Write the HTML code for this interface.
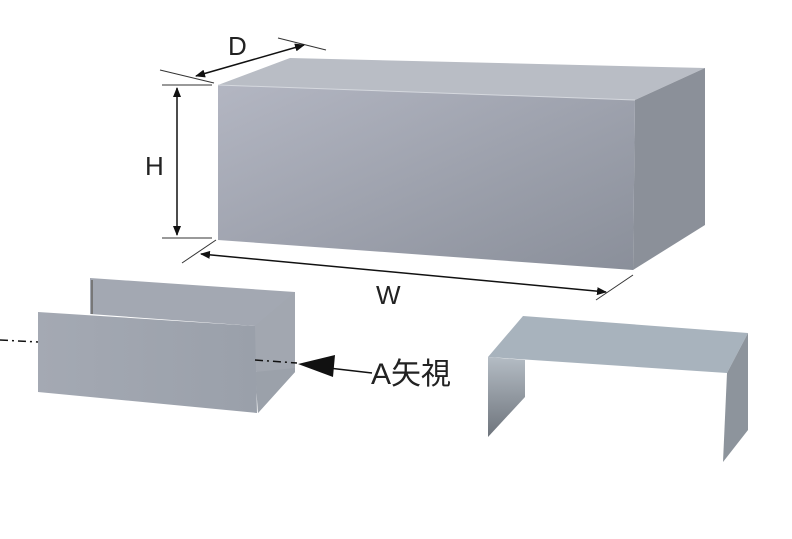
<!DOCTYPE html>
<html><head><meta charset="utf-8"><style>
html,body{margin:0;padding:0;background:#fff;width:792px;height:539px;overflow:hidden}
text{font-family:"Liberation Sans","Noto Sans CJK JP",sans-serif;fill:#222}
</style></head><body>
<svg width="792" height="539" viewBox="0 0 792 539" xmlns="http://www.w3.org/2000/svg">
<defs>
<linearGradient id="front" x1="0" y1="0" x2="1" y2="1">
<stop offset="0" stop-color="#b3b6c2"/><stop offset="1" stop-color="#8a8f9a"/></linearGradient>
<linearGradient id="fp" x1="0" y1="0" x2="1" y2="0">
<stop offset="0" stop-color="#a4a9b3"/><stop offset="1" stop-color="#9aa0aa"/></linearGradient>
<linearGradient id="lp" x1="0" y1="0" x2="0" y2="1">
<stop offset="0" stop-color="#b4bcc4"/><stop offset="1" stop-color="#6e747c"/></linearGradient>
<marker id="ah" markerWidth="10" markerHeight="8" refX="9" refY="4" orient="auto" markerUnits="userSpaceOnUse"><path d="M0,0L10,4L0,8z" fill="#111"/></marker>
<marker id="as" markerWidth="10" markerHeight="8" refX="1" refY="4" orient="auto" markerUnits="userSpaceOnUse"><path d="M10,0L0,4L10,8z" fill="#111"/></marker>
</defs>
<polygon points="218,85 290,58 705,68 635,100" fill="#b9bdc5"/>
<polygon points="635,100 705,68 705,225 633,270" fill="#8b9099"/>
<polygon points="218,85 635,100 633,270 218,240" fill="url(#front)"/>
<line x1="218" y1="85" x2="635" y2="100" stroke="#d5d8de" stroke-width="1"/>
<line x1="160" y1="70" x2="214" y2="83" stroke="#333"/>
<line x1="278" y1="38" x2="326" y2="50" stroke="#333"/>
<line x1="196" y1="76" x2="304" y2="45" stroke="#111" stroke-width="1.5" marker-end="url(#ah)" marker-start="url(#as)"/>
<text x="228" y="55" font-size="26">D</text>
<line x1="162" y1="85" x2="212" y2="85" stroke="#333"/>
<line x1="162" y1="238" x2="212" y2="238" stroke="#333"/>
<line x1="177" y1="88" x2="177" y2="235" stroke="#111" stroke-width="1.5" marker-end="url(#ah)" marker-start="url(#as)"/>
<text x="145" y="175" font-size="26">H</text>
<line x1="182" y1="263" x2="216" y2="240" stroke="#333"/>
<line x1="596" y1="300" x2="633" y2="275" stroke="#333"/>
<line x1="201" y1="254" x2="606" y2="292" stroke="#111" stroke-width="1.5" marker-end="url(#ah)" marker-start="url(#as)"/>
<text x="376" y="304" font-size="26">W</text>
<!-- left U channel -->
<polygon points="90,278 295,292 295,372 258,413 255,326 90,314" fill="#a3a8b2"/>
<polygon points="255,326 295,292 295,368 255,372" fill="#a2a7b0"/>
<polygon points="255,372 295,368 295,372 258,413" fill="#9ba1aa"/>
<line x1="92" y1="280" x2="92" y2="314" stroke="#777" stroke-width="2"/>
<polygon points="38,312 255,326 257,413 38,392" fill="url(#fp)"/>
<line x1="0" y1="340" x2="38" y2="342" stroke="#111" stroke-width="1.5" stroke-dasharray="8,4,2,4"/>
<line x1="255" y1="360" x2="297" y2="363" stroke="#111" stroke-width="1.5" stroke-dasharray="8,4,2,4"/>
<line x1="372" y1="373" x2="320" y2="367" stroke="#111" stroke-width="1.5"/>
<path d="M298,364 L335,355 L333,377z" fill="#111"/>
<text x="371" y="384" font-size="30">A矢視</text>
<polygon points="523,316 748,333 727,373 488,357" fill="#a8b3bd"/>
<polygon points="488,357 525,360 525,397 488,437" fill="url(#lp)"/>
<polygon points="748,333 748,430 723,462 727,373" fill="#8d949c"/>
</svg>
</body></html>
